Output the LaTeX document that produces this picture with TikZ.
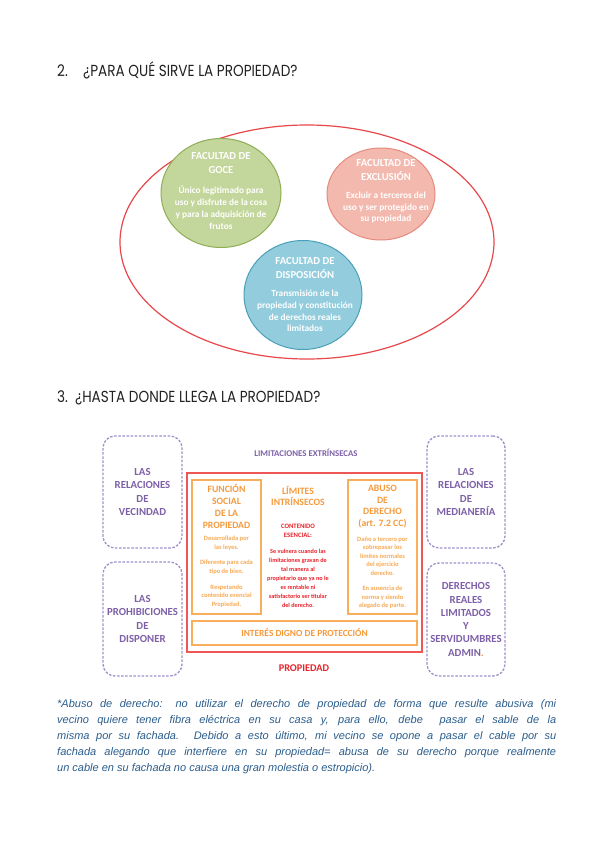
\documentclass[tikz,border=0pt]{standalone}
\usepackage{fontspec}
\setmainfont{Carlito}
\newfontfamily\hand{Poppins}
\newfontfamily\parafont{Liberation Sans}
\usetikzlibrary{shapes.geometric}
\definecolor{ellred}{HTML}{E8474C}
\definecolor{gfill}{HTML}{C3D69B}
\definecolor{gline}{HTML}{8FAE55}
\definecolor{pfill}{HTML}{F4B9AE}
\definecolor{pline}{HTML}{E48A7E}
\definecolor{bfill}{HTML}{93CDDD}
\definecolor{bline}{HTML}{4A9FB8}
\definecolor{purp}{HTML}{7D60A8}
\definecolor{purpline}{HTML}{A08FCC}
\definecolor{orgt}{HTML}{F59A3C}
\definecolor{orgl}{HTML}{F8AE5A}
\definecolor{orgs}{HTML}{F7AA55}
\definecolor{redt}{HTML}{E8232B}
\definecolor{redbox}{HTML}{EF5656}
\definecolor{parac}{HTML}{2B5D8C}
\definecolor{titc}{HTML}{222222}
\tikzset{
  circ/.style={ellipse, line width=1pt, inner sep=0pt},
  ctitle/.style={text=white, align=center, font=\bfseries\fontsize{10.7}{14}\selectfont},
  cbody/.style={text=white, align=center, font=\bfseries\fontsize{9.3}{11.8}\selectfont},
  sidebox/.style={draw=purpline, line width=1.3pt, dash pattern=on 2.5pt off 1.6pt, rounded corners=12pt, text=purp, align=center, font=\bfseries\fontsize{10.8}{13.3}\selectfont},
  obox/.style={draw=orgl, line width=1.2pt},
  otitle/.style={text=orgt, align=center, font=\bfseries\fontsize{9.7}{11.8}\selectfont},
  osmall/.style={text=orgs, align=center, font=\bfseries\fontsize{6.5}{8.5}\selectfont},
  rsmall/.style={text=redt, align=center, font=\bfseries\fontsize{6.2}{9}\selectfont},
  htitle/.style={anchor=base west, text=titc, inner sep=0pt},
  paraline/.style={anchor=base west, text=parac, inner sep=0pt, font=\parafont\itshape\fontsize{11}{13}\selectfont},
}
\begin{document}
\begin{tikzpicture}[x=1pt,y=-1pt]
\useasboundingbox[fill=white] (0,0) rectangle (599,848);

% ---- Title 2
\node[htitle] (t2n) at (57,77) {\scalebox{0.85}[1]{\hand\fontsize{16}{16}\selectfont 2.}};
\node[htitle] (t2) at (83,77) {\scalebox{0.85}[1]{\hand\fontsize{16}{16}\selectfont ¿PARA QUÉ SIRVE LA PROPIEDAD?}};

% ---- big ellipse and circles
\node[ellipse, draw=ellred, line width=1.2pt, minimum width=374pt, minimum height=234pt] (prop) at (307,242) {};
\node[circ, draw=gline, fill=gfill, minimum width=120pt, minimum height=109pt] (goce) at (221,193) {};
\node[circ, draw=pline, fill=pfill, minimum width=108pt, minimum height=92pt] (excl) at (381,194) {};
\node[circ, draw=bline, fill=bfill, minimum width=118pt, minimum height=109pt] (disp) at (303,295) {};

\node[ctitle] (goceT) at (221,163) {FACULTAD DE\\GOCE};
\node[cbody] (goceB) at (221,207.5) {Único legitimado para\\uso y disfrute de la cosa\\y para la adquisición de\\frutos};
\node[ctitle] (exclT) at (386,170) {FACULTAD DE\\EXCLUSIÓN};
\node[cbody] (exclB) at (386,207.5) {Excluir a terceros del\\uso y ser protegido en\\su propiedad};
\node[ctitle] (dispT) at (305,268) {FACULTAD DE\\DISPOSICIÓN};
\node[cbody] (dispB) at (305,311) {Transmisión de la\\propiedad y constitución\\de derechos reales\\limitados};

% ---- Title 3
\node[htitle] (t3n) at (57,402) {\scalebox{0.85}[1]{\hand\fontsize{16}{16}\selectfont 3.}};
\node[htitle] (t3) at (75,402) {\scalebox{0.85}[1]{\hand\fontsize{16}{16}\selectfont ¿HASTA DONDE LLEGA LA PROPIEDAD?}};

% ---- Limitaciones
\node[text=purp, font=\bfseries\fontsize{8.8}{9}\selectfont] (extr) at (306,453) {LIMITACIONES EXTRÍNSECAS};

\node[sidebox, minimum width=79pt, minimum height=112pt] (vec) at (142.5,492) {LAS\\RELACIONES\\DE\\VECINDAD};
\node[sidebox, minimum width=79pt, minimum height=114pt] (proh) at (142.5,619) {LAS\\PROHIBICIONES\\DE\\DISPONER};
\node[sidebox, minimum width=78pt, minimum height=112pt] (med) at (466,492) {LAS\\RELACIONES\\DE\\MEDIANERÍA};
\node[sidebox, minimum width=78pt, minimum height=113pt] (der) at (466,619.5) {DERECHOS\\REALES\\LIMITADOS\\Y\\SERVIDUMBRES\\ADMIN\textcolor{orgt}{.}};

\draw[draw=redbox, line width=1.6pt] (187,473) rectangle (422,652);
\node[inner sep=0pt, minimum width=235pt, minimum height=179pt] (redr) at (304.5,562.5) {};

\node[obox, minimum width=69pt, minimum height=134pt] (func) at (226.5,547) {};
\node[obox, minimum width=69pt, minimum height=134pt] (abuso) at (382.5,547) {};
\node[obox, minimum width=225pt, minimum height=24pt] (inter) at (304.5,633) {};

\node[otitle] (funcT) at (226.5,506.5) {FUNCIÓN\\SOCIAL\\DE LA\\PROPIEDAD};
\node[osmall] (funcB1) at (226.5,543) {Desarrollada por\\las leyes.};
\node[osmall] (funcB2) at (226.5,567) {Diferente para cada\\tipo de bien.};
\node[osmall] (funcB3) at (226.5,596) {Respetando\\contenido esencial\\Propiedad.};

\node[otitle] (limT) at (298,496) {LÍMITES\\INTRÍNSECOS};
\node[text=redt, align=center, font=\bfseries\fontsize{6.7}{9}\selectfont] (cont) at (298,530.5) {CONTENIDO\\ESENCIAL:};
\node[rsmall] (limB) at (298,578) {Se vulnera cuando las\\limitaciones gravan de\\tal manera al\\propietario que ya no le\\es rentable ni\\satisfactorio ser titular\\del derecho.};

\node[otitle] (abT) at (382.5,506.5) {ABUSO\\DE\\DERECHO\\(art. 7.2 CC)};
\node[osmall] (abB1) at (382.5,556) {Daño a tercero por\\sobrepasar los\\límites normales\\del ejercicio\\derecho.};
\node[osmall] (abB2) at (382.5,597.5) {En ausencia de\\norma y siendo\\alegado de parte.};

\node[text=orgt, font=\bfseries\fontsize{9.4}{10}\selectfont] (interT) at (304.5,633) {INTERÉS DIGNO DE PROTECCIÓN};
\node[text=redt, font=\bfseries\fontsize{10.3}{11}\selectfont] (propT) at (304,668) {PROPIEDAD};

% ---- paragraph
\node[paraline] (l1) at (57,707) {\makebox[499pt][s]{*Abuso de derecho: no utilizar el derecho de propiedad de forma que resulte abusiva (mi}};
\node[paraline] (l2) at (57,723) {\makebox[499pt][s]{vecino quiere tener fibra eléctrica en su casa y, para ello, debe \ pasar el sable de la}};
\node[paraline] (l3) at (57,739) {\makebox[499pt][s]{misma por su fachada. Debido a esto último, mi vecino se opone a pasar el cable por su}};
\node[paraline] (l4) at (57,755) {\makebox[499pt][s]{fachada alegando que interfiere en su propiedad= abusa de su derecho porque realmente}};
\node[paraline] (l5) at (57,771) {un cable en su fachada no causa una gran molestia o estropicio).};
\end{tikzpicture}
\end{document}
